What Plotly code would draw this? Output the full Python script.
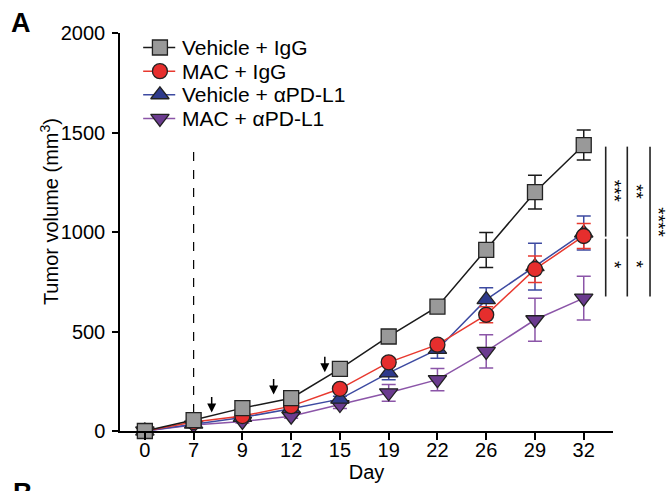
import plotly.graph_objects as go

# ---------------- data ----------------
days = ["0", "7", "9", "12", "15", "19", "22", "26", "29", "32"]
veh_igg = [0, 55, 115, 165, 312, 475, 625, 910, 1200, 1437]
veh_igg_err = [0, 10, 12, 15, 20, 15, 18, 88, 85, 75]
mac_igg = [0, 45, 75, 125, 212, 345, 434, 584, 813, 980]
mac_igg_err = [0, 5, 8, 10, 15, 20, 20, 40, 67, 63]
veh_pd = [0, 35, 68, 112, 160, 292, 410, 660, 826, 995]
veh_pd_err = [0, 5, 8, 10, 15, 35, 45, 60, 117, 85]
mac_pd = [0, 30, 48, 74, 133, 192, 258, 400, 559, 668]
mac_pd_err = [0, 5, 8, 10, 20, 42, 56, 84, 108, 110]

y_ticks = [0, 500, 1000, 1500, 2000]
treatment_start_index = 1          # dashed line at day 7
dashed_top = 1430
arrow_pos = [1.37, 2.64, 3.69]     # dosing arrows (category-index positions)
arrow_tips = [93, 183, 295]

FONT = "Arial, Liberation Sans, sans-serif"
idx = list(range(len(days)))

series = [
    # name, values, errors, line colour, fill colour, symbol, size
    ("MAC + αPD-L1", mac_pd, mac_pd_err, "#8b55a8", "#6b3b8f", "triangle-down", 16),
    ("Vehicle + αPD-L1", veh_pd, veh_pd_err, "#3d4aa1", "#2e3a8c", "triangle-up", 16),
    ("MAC + IgG", mac_igg, mac_igg_err, "#e8392f", "#e62e2d", "circle", 15),
    ("Vehicle + IgG", veh_igg, veh_igg_err, "#1a1a1a", "#999999", "square", 15),
]

fig = go.Figure()
for name, vals, errs, lc, fc, sym, sz in series:
    fig.add_trace(go.Scatter(
        x=idx, y=vals, name=name, mode="lines+markers", showlegend=False,
        line=dict(color=lc, width=1.5),
        marker=dict(symbol=sym, size=sz, color=fc, line=dict(color="#222222", width=1.3)),
        error_y=dict(type="data", array=errs, visible=True, color=lc, thickness=1.5, width=7),
        cliponaxis=False,
    ))

# ---- legend drawn on an overlay axis spanning the plot area (0..1) ----
leg_x0, leg_x1, leg_xm, leg_xt = 0.047, 0.112, 0.081, 0.122
leg_top, leg_step = 0.9636, 0.0594
for i, (name, vals, errs, lc, fc, sym, sz) in enumerate(reversed(series)):
    yy = leg_top - i * leg_step
    fig.add_trace(go.Scatter(
        x=[leg_x0, leg_x1], y=[yy, yy], xaxis="x2", yaxis="y2",
        mode="lines", showlegend=False, hoverinfo="skip",
        line=dict(color=lc, width=1.5), cliponaxis=False,
    ))
    fig.add_trace(go.Scatter(
        x=[leg_xm], y=[yy], xaxis="x2", yaxis="y2",
        mode="markers", showlegend=False, hoverinfo="skip",
        marker=dict(symbol=sym, size=sz, color=fc, line=dict(color="#222222", width=1.3)),
        cliponaxis=False,
    ))
    fig.add_annotation(x=leg_xt, y=yy, xref="paper", yref="paper", text=name,
                       showarrow=False, xanchor="left", yanchor="middle",
                       font=dict(family=FONT, size=21, color="black"))

# dashed treatment-start line
fig.add_shape(type="line", xref="x", yref="y",
              x0=treatment_start_index, x1=treatment_start_index, y0=0, y1=dashed_top,
              line=dict(color="black", width=1.2, dash="dash"), layer="below")

# dosing arrows
for ax_, tip in zip(arrow_pos, arrow_tips):
    fig.add_annotation(x=ax_, y=tip, xref="x", yref="y", text="", showarrow=True,
                       arrowhead=2, arrowsize=1.2, arrowwidth=1.5, arrowcolor="black",
                       ax=0, ay=-17)

# significance brackets (right side)
top_v = veh_igg[-1]
mid_v = mac_igg[-1]
bot_v = mac_pd[-1]
for xp in [0.9852, 1.0290]:
    fig.add_shape(type="line", xref="paper", yref="y", x0=xp, x1=xp, y0=top_v - 8, y1=mid_v - 3,
                  line=dict(color="#222222", width=1.6))
    fig.add_shape(type="line", xref="paper", yref="y", x0=xp, x1=xp, y0=mid_v - 14, y1=bot_v + 8,
                  line=dict(color="#222222", width=1.6))
fig.add_shape(type="line", xref="paper", yref="y", x0=1.0751, x1=1.0751, y0=top_v - 8, y1=bot_v + 8,
              line=dict(color="#222222", width=1.6))

stars = [("***", 1.0035, 1204), ("**", 1.047, 1204), ("****", 1.0925, 1051),
         ("*", 1.0035, 836), ("*", 1.047, 836)]
for txt, xp, yv in stars:
    fig.add_annotation(x=xp, y=yv, xref="paper", yref="y", text=txt, showarrow=False,
                       textangle=90, xanchor="center", yanchor="middle",
                       font=dict(family=FONT, size=19, color="black"))

# panel labels
fig.add_annotation(x=-0.2, y=1.024, xref="paper", yref="paper", text="<b>A</b>",
                   showarrow=False, xanchor="center", yanchor="middle",
                   font=dict(family=FONT, size=27, color="black"))
fig.add_annotation(x=-0.221, y=-0.114, xref="paper", yref="paper", text="<b>B</b>",
                   showarrow=False, xanchor="left", yanchor="top",
                   font=dict(family=FONT, size=27, color="black"))

# y-axis title
fig.add_annotation(x=-0.144, y=0.55, xref="paper", yref="paper",
                   text="Tumor volume (mm<sup>3</sup>)", textangle=-90, showarrow=False,
                   xanchor="center", yanchor="middle",
                   font=dict(family=FONT, size=20, color="black"))

fig.update_layout(
    width=667, height=491,
    margin=dict(l=120, r=54, t=33, b=59.5),
    paper_bgcolor="white", plot_bgcolor="white",
    font=dict(family=FONT, size=20, color="black"),
    showlegend=False,
    xaxis=dict(range=[-0.51, 9.6], tickmode="array", tickvals=idx, ticktext=days,
               showline=True, linecolor="black", linewidth=1.5, ticks="outside",
               ticklen=7, tickwidth=1.5, tickcolor="black", showgrid=False, zeroline=False,
               ticklabelstandoff=-7,
               title=dict(text="Day", standoff=0, font=dict(size=20))),
    yaxis=dict(range=[0, 2000], tickmode="array", tickvals=y_ticks,
               showline=True, linecolor="black", linewidth=1.5, ticks="outside",
               ticklen=6, tickwidth=1.5, tickcolor="black", showgrid=False, zeroline=False,
               ticklabelstandoff=3),
    xaxis2=dict(overlaying="x", range=[0, 1], visible=False, fixedrange=True),
    yaxis2=dict(overlaying="y", range=[0, 1], visible=False, fixedrange=True),
)

# remove the default 8px page margin so the figure fills the 667x491 window exactly
fig.write_html("out.html",
               config={"displayModeBar": False},
               post_script="document.body.style.margin='0';document.body.style.overflow='hidden';")
